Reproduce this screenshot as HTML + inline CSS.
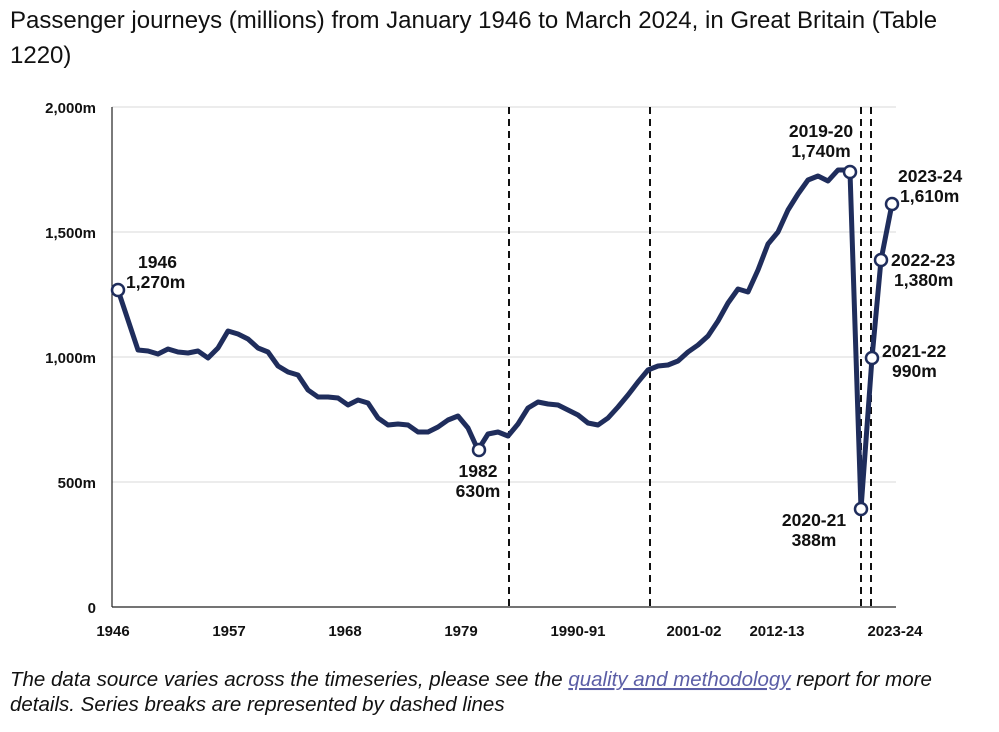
<!DOCTYPE html>
<html><head><meta charset="utf-8"><style>
body{margin:0;background:#fff;width:999px;height:727px;overflow:hidden;font-family:"Liberation Sans",Arial,sans-serif}
</style></head><body>
<svg width="999" height="727" xmlns="http://www.w3.org/2000/svg" font-family="Liberation Sans, Arial, sans-serif">
<text x="10" y="28" font-size="24" fill="#111">Passenger journeys (millions) from January 1946 to March 2024, in Great Britain (Table</text>
<text x="10" y="63" font-size="24" fill="#111">1220)</text>
<g stroke="#d9d9d9" stroke-width="1">
<line x1="112" y1="107" x2="896" y2="107"/><line x1="112" y1="232" x2="896" y2="232"/>
<line x1="112" y1="357" x2="896" y2="357"/><line x1="112" y1="482" x2="896" y2="482"/>
</g>
<line x1="112" y1="107" x2="112" y2="607" stroke="#222" stroke-width="1.2"/>
<line x1="112" y1="607" x2="896" y2="607" stroke="#222" stroke-width="1.2"/>
<g stroke="#111" stroke-width="2" stroke-dasharray="7,5">
<line x1="509" y1="107" x2="509" y2="607"/><line x1="650" y1="107" x2="650" y2="607"/>
<line x1="861" y1="107" x2="861" y2="607"/><line x1="871" y1="107" x2="871" y2="607"/>
</g>
<g font-size="15" font-weight="bold" fill="#111" text-anchor="end">
<text x="96" y="113">2,000m</text><text x="96" y="238">1,500m</text><text x="96" y="363">1,000m</text><text x="96" y="488">500m</text><text x="96" y="613">0</text>
</g>
<g font-size="15" font-weight="bold" fill="#111" text-anchor="middle">
<text x="113" y="636">1946</text><text x="229" y="636">1957</text><text x="345" y="636">1968</text><text x="461" y="636">1979</text><text x="578" y="636">1990-91</text><text x="694" y="636">2001-02</text><text x="777" y="636">2012-13</text><text x="895" y="636">2023-24</text>
</g>
<polyline fill="none" stroke="#1f2d5c" stroke-width="5" stroke-linejoin="round" points="118,290 138,350 148,351 158,354 168,349 178,352 188,353 198,351 208,358 218,348 228,331 238,334 248,339 258,348 268,352 278,366 288,372 298,375 308,390 318,397 328,397 338,398 348,405 358,400 368,403 378,418 388,425 398,424 408,425 418,432 428,432 438,427 448,420 458,416 468,428 478,450 488,434 498,432 508,436 518,424 528,408 538,402 548,404 558,405 568,410 578,415 588,423 598,425 608,418 618,407 628,395 638,382 648,370 658,366 668,365 678,361 688,352 698,345 708,336 718,321 728,303 738,289 748,292 758,270 768,244 778,232 788,210 798,194 808,180 818,176 828,181 838,170 845,170 850,172 861,509 872,358 881,260 892,204"/>
<g fill="#fff" stroke="#1f2d5c" stroke-width="2.5">
<circle cx="118" cy="290" r="6"/><circle cx="479" cy="450" r="6"/><circle cx="850" cy="172" r="6"/><circle cx="861" cy="509" r="6"/><circle cx="872" cy="358" r="6"/><circle cx="881" cy="260" r="6"/><circle cx="892" cy="204" r="6"/>
</g>
<g font-size="17.5" font-weight="bold" fill="#111">
<text x="138" y="268">1946</text><text x="126" y="288">1,270m</text>
<text x="478" y="477" text-anchor="middle">1982</text><text x="478" y="497" text-anchor="middle">630m</text>
<text x="821" y="137" text-anchor="middle">2019-20</text><text x="821" y="157" text-anchor="middle">1,740m</text>
<text x="898" y="182">2023-24</text><text x="900" y="202">1,610m</text>
<text x="891" y="266">2022-23</text><text x="894" y="286">1,380m</text>
<text x="882" y="357">2021-22</text><text x="892" y="377">990m</text>
<text x="814" y="526" text-anchor="middle">2020-21</text><text x="814" y="546" text-anchor="middle">388m</text>
</g>
<g font-size="20.5" font-style="italic" fill="#111">
<text x="10" y="686">The data source varies across the timeseries, please see the <tspan fill="#5b5ea6" text-decoration="underline">quality and methodology</tspan> report for more</text>
<text x="10" y="711">details. Series breaks are represented by dashed lines</text>
</g>
</svg>
</body></html>
